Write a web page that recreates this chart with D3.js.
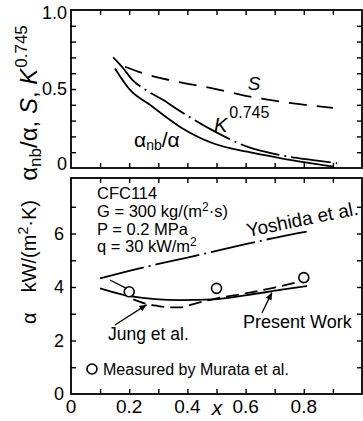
<!DOCTYPE html>
<html>
<head>
<meta charset="utf-8">
<script src="https://cdn.jsdelivr.net/npm/d3@7"></script>
<style>
  html, body { margin: 0; padding: 0; background: #fff; }
  svg { display: block; }
  text { font-family: "Liberation Sans", Arial, sans-serif; fill: #000; }
</style>
</head>
<body>
<svg id="chart" width="363" height="421"></svg>
<script>
// ---- upper panel: ratios vs vapour quality x ----
const ratioNb = [[0.151,0.63],[0.203,0.494],[0.271,0.40],[0.375,0.26],[0.49,0.155],[0.605,0.103],[0.718,0.063],[0.811,0.034],[0.9,0.008]];
const suppressionS = [[0.186,0.641],[0.25,0.598],[0.34,0.556],[0.49,0.503],[0.6,0.457],[0.72,0.42],[0.9,0.38]];
const kPow = [[0.145,0.70],[0.18,0.63],[0.21,0.56],[0.26,0.49],[0.317,0.43],[0.375,0.36],[0.49,0.235],[0.605,0.135],[0.718,0.082],[0.832,0.05],[0.914,0.03]];

// ---- lower panel: heat transfer coefficient (kW/(m2 K)) vs x ----
const presentWork = [[0.10,3.95],[0.203,3.66],[0.375,3.51],[0.488,3.54],[0.605,3.70],[0.718,3.89],[0.811,4.04]];
const jung = [[0.214,3.54],[0.25,3.40],[0.294,3.30],[0.34,3.24],[0.375,3.24],[0.42,3.36],[0.49,3.55],[0.6,3.76],[0.7,3.98],[0.787,4.2]];
const yoshida = [[0.10,4.32],[0.2,4.6],[0.3,4.86],[0.4,5.1],[0.5,5.35],[0.6,5.6],[0.7,5.84],[0.81,6.07]];
const murata = [[0.2,3.82],[0.5,3.95],[0.8,4.35]];

// tick labels
const xTickLabels = [0, 0.2, 0.4, 0.6, 0.8];
const topYTickLabels = [0, 0.5, 1.0];
const botYTickLabels = [0, 2, 4, 6];
const conditions = ["CFC114", "G = 300 kg/(m", "P = 0.2 MPa", "q = 30 kW/m"];

// ---- layout ----
const svg = d3.select("#chart");
const L = 71, R = 362;
const topPanel = { y0: 10, y1: 168 };
const botPanel = { y0: 178, y1: 394 };

const x = d3.scaleLinear().domain([0, 1]).range([L, R]);
const yTop = d3.scaleLinear().domain([0, 1]).range([topPanel.y1, topPanel.y0]);
const yBot = d3.scaleLinear().domain([0, 8]).range([botPanel.y1, botPanel.y0 + 2]);

const xMinor = d3.range(1, 10).map(i => i / 10);

function frame(p) {
  svg.append("rect").attr("x", L).attr("y", p.y0).attr("width", R - L).attr("height", p.y1 - p.y0)
    .attr("fill", "none").attr("stroke", "#000").attr("stroke-width", 1.8);
}

function ticks(p, yScale, yTicks) {
  const g = svg.append("g");
  const strip = sel => { sel.select(".domain").remove(); sel.selectAll("text").remove();
    sel.selectAll("line").attr("stroke", "#000").attr("stroke-width", 1.4); };
  g.append("g").attr("transform", `translate(0,${p.y1})`)
    .call(d3.axisBottom(x).tickValues(xMinor).tickSize(-5)).call(strip);
  g.append("g").attr("transform", `translate(0,${p.y0})`)
    .call(d3.axisTop(x).tickValues(xMinor).tickSize(-5)).call(strip);
  g.append("g").attr("transform", `translate(${L},0)`)
    .call(d3.axisLeft(yScale).tickValues(yTicks).tickSize(-5)).call(strip);
  g.append("g").attr("transform", `translate(${R},0)`)
    .call(d3.axisRight(yScale).tickValues(yTicks).tickSize(-5)).call(strip);
}

frame(topPanel);
frame(botPanel);
ticks(topPanel, yTop, d3.range(1, 10).map(i => i / 10));
ticks(botPanel, yBot, d3.range(1, 8));

// tick labels
const fmt = v => v === 0 ? "0" : (Number.isInteger(v) ? v.toFixed(1) : String(v));
svg.append("g").selectAll("text").data(topYTickLabels).join("text")
  .attr("x", 67).attr("y", d => yTop(d) + (d === 0 ? -4 : d === 1 ? 3 : 0)).attr("dy", "0.35em")
  .attr("text-anchor", "end").attr("font-size", 18).text(fmt);
svg.append("g").selectAll("text").data(botYTickLabels).join("text")
  .attr("x", 64).attr("y", d => yBot(d)).attr("dy", "0.35em")
  .attr("text-anchor", "end").attr("font-size", 18).text(d => String(d));
svg.append("g").selectAll("text").data(xTickLabels).join("text")
  .attr("x", d => x(d)).attr("y", 413)
  .attr("text-anchor", "middle").attr("font-size", 19).text(d => d === 0 ? "0" : String(d));

// x axis title
svg.append("text").attr("x", 217).attr("y", 415).attr("text-anchor", "middle")
  .attr("font-size", 21).attr("font-style", "italic").text("x");

// upper y title
const t1 = svg.append("text").attr("transform", "translate(37,103) rotate(-90)")
  .attr("text-anchor", "middle").attr("font-size", 24);
t1.append("tspan").text("α");
t1.append("tspan").attr("font-size", 17).attr("dy", 4).text("nb");
t1.append("tspan").attr("dy", -4).text("/α, ");
t1.append("tspan").attr("font-style", "italic").text("S");
t1.append("tspan").text(", ");
t1.append("tspan").attr("font-style", "italic").text("K");
t1.append("tspan").attr("font-size", 17).attr("dy", -10).attr("dx", 1).text("0.745");

// lower y title
const t2 = svg.append("text").attr("transform", "translate(36,262) rotate(-90)")
  .attr("text-anchor", "middle").attr("font-size", 20);
t2.append("tspan").text("α\u2002\u2002kW/(m");
t2.append("tspan").attr("font-size", 14).attr("dy", -8).text("2");
t2.append("tspan").attr("dy", 8).text("·K)");

// ---- curves ----
const lineTop = d3.line().x(d => x(d[0])).y(d => yTop(d[1])).curve(d3.curveMonotoneX);
const lineBot = d3.line().x(d => x(d[0])).y(d => yBot(d[1])).curve(d3.curveMonotoneX);

function curve(data, gen, dash) {
  svg.append("path").datum(data).attr("d", gen).attr("fill", "none")
    .attr("stroke", "#000").attr("stroke-width", 1.8)
    .attr("stroke-dasharray", dash || null);
}
curve(ratioNb, lineTop);
curve(suppressionS, lineTop, "18,10");
curve(kPow, lineTop, "40,5,2,5");

curve(presentWork, lineBot);
curve(jung, lineBot, "13,6");
curve(yoshida, lineBot, "45,5,2,5");

svg.append("g").selectAll("circle").data(murata).join("circle")
  .attr("cx", d => x(d[0])).attr("cy", d => yBot(d[1])).attr("r", 5)
  .attr("fill", "#fff").attr("stroke", "#000").attr("stroke-width", 1.6);

// ---- curve labels (upper) ----
svg.append("text").attr("x", 254).attr("y", 90).attr("text-anchor", "middle")
  .attr("font-size", 19).attr("font-style", "italic").text("S");
const kl = svg.append("text").attr("x", 214).attr("y", 132).attr("font-size", 20);
kl.append("tspan").attr("font-style", "italic").text("K");
kl.append("tspan").attr("font-size", 16).attr("dy", -14).attr("dx", 2).text("0.745");
const al = svg.append("text").attr("x", 134).attr("y", 147).attr("font-size", 21);
al.append("tspan").text("α");
al.append("tspan").attr("font-size", 14).attr("dy", 3).text("nb");
al.append("tspan").attr("dy", -3).text("/α");

// ---- conditions block ----
const cond = svg.append("g").attr("font-size", 16.5);
const condY = [199, 217, 235, 252];
conditions.forEach((s, i) => {
  const t = cond.append("text").attr("x", 97).attr("y", condY[i]);
  t.append("tspan").text(s);
  if (i === 1) {
    t.append("tspan").attr("font-size", 12).attr("dy", -6).text("2");
    t.append("tspan").attr("dy", 6).text("·s)");
  }
  if (i === 3) {
    t.append("tspan").attr("font-size", 12).attr("dy", -6).text("2");
  }
});

// ---- annotations (lower) ----
svg.append("defs").append("marker").attr("id", "head").attr("viewBox", "0 0 10 10")
  .attr("refX", 9).attr("refY", 5).attr("markerWidth", 6).attr("markerHeight", 6)
  .attr("orient", "auto").append("path").attr("d", "M0,1L10,5L0,9z").attr("fill", "#000");

const leaders = [
  { from: [0.151, 2.58], to: [0.259, 3.33], arrow: true },
  { from: [0.656, 3.03], to: [0.69, 3.78], arrow: true },
  { from: [0.134, 4.26], to: [0.19, 3.95], arrow: false }
];
leaders.forEach(l => {
  svg.append("line").attr("x1", x(l.from[0])).attr("y1", yBot(l.from[1]))
    .attr("x2", x(l.to[0])).attr("y2", yBot(l.to[1]))
    .attr("stroke", "#000").attr("stroke-width", 1.3)
    .attr("marker-end", l.arrow ? "url(#head)" : null);
});

svg.append("text").attr("x", 108).attr("y", 340).attr("font-size", 17.5).text("Jung et al.");
svg.append("text").attr("x", 243).attr("y", 328).attr("font-size", 18).text("Present Work");
svg.append("text").attr("transform", "translate(248,237) rotate(-11.5)")
  .attr("font-size", 19).text("Yoshida et al.");

svg.append("circle").attr("cx", 92).attr("cy", 369).attr("r", 5)
  .attr("fill", "#fff").attr("stroke", "#000").attr("stroke-width", 1.6);
svg.append("text").attr("x", 103).attr("y", 375).attr("font-size", 16).text("Measured by Murata et al.");
</script>
</body>
</html>
